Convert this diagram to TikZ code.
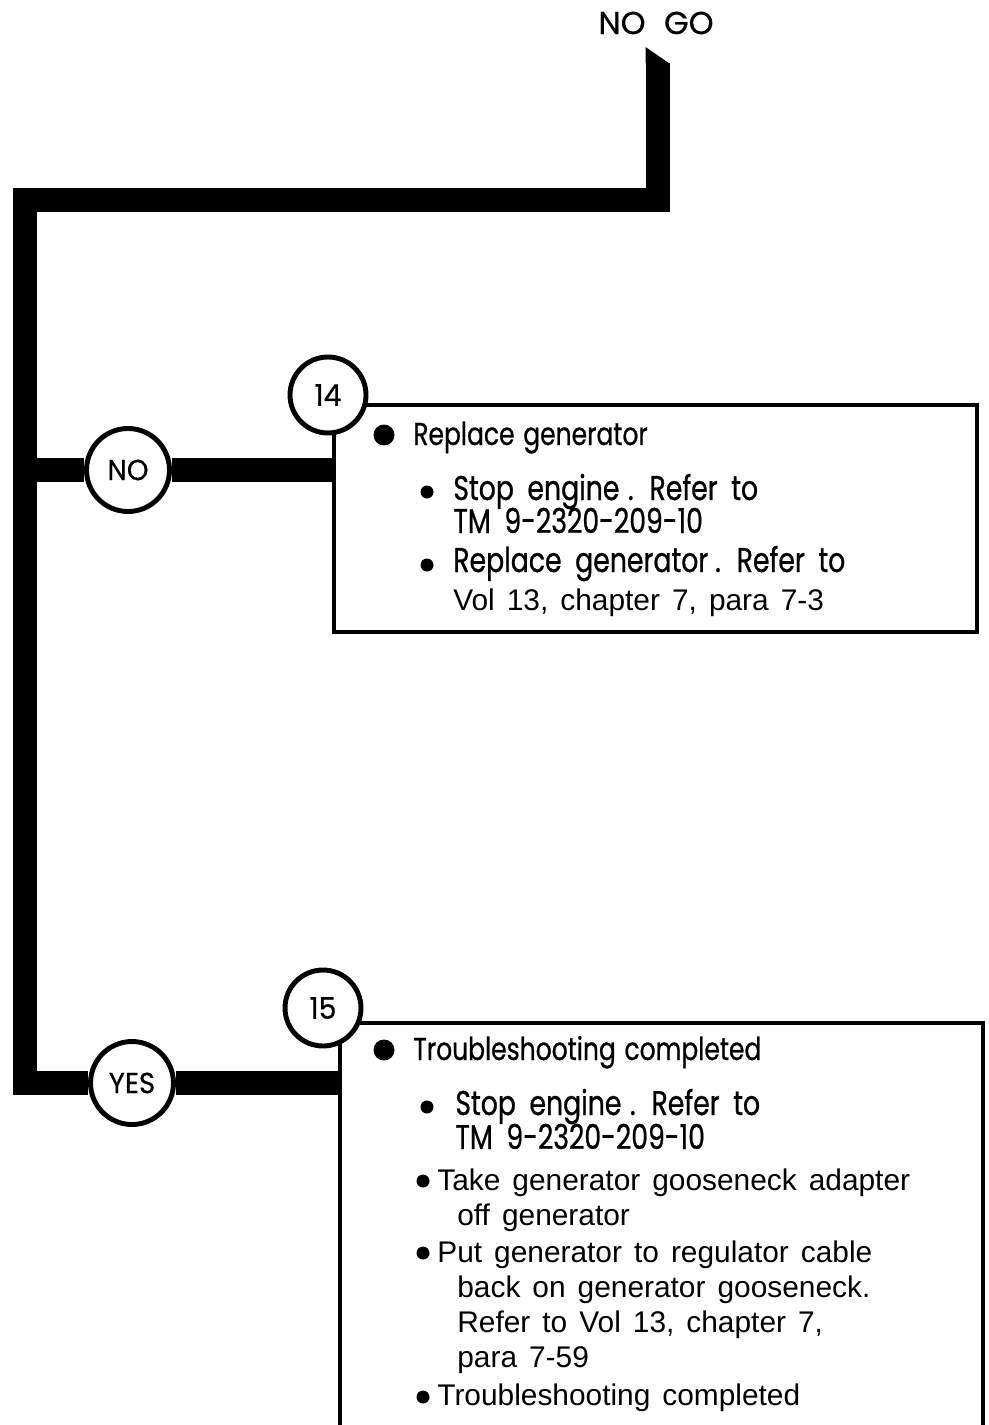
\documentclass[tikz,border=0pt]{standalone}
\usepackage{fontspec}
\setmainfont{Poppins}
\newfontfamily\headfont[FakeStretch=0.79,FakeBold=0.7,WordSpace=1.3]{Poppins}
\newfontfamily\itemfont[FakeStretch=0.78,FakeBold=0.7,WordSpace=1.9]{Poppins}
\newfontfamily\ringfont[FakeStretch=0.95,FakeBold=0.6]{Poppins}
\newfontfamily\gofont[WordSpace=2.2,FakeBold=0.6]{Poppins}
\newfontfamily\thinfont[WordSpace=1.45]{Liberation Sans}
\tikzset{
  flow/.style={line width=0.48cm},
  ring/.style={circle,draw,fill=white,line width=2.8pt,inner sep=0pt,
    minimum size=1.66cm,font=\ringfont\fontsize{16.5}{16.5}\selectfont},
  stepring/.style={ring,minimum size=1.52cm,font=\ringfont\fontsize{17}{17}\selectfont},
  frame/.style={line width=1.8pt},
  head/.style={anchor=base west,inner sep=0pt,font=\headfont\fontsize{18}{18}\selectfont},
  item/.style={anchor=base west,inner sep=0pt,font=\itemfont\fontsize{19.5}{19.5}\selectfont},
  note/.style={anchor=base west,inner sep=0pt,font=\thinfont\fontsize{17}{17}\selectfont},
}
\begin{document}
\begin{tikzpicture}[x=0.02cm,y=-0.02cm]
\useasboundingbox (0,0) rectangle (988,1425);
% boxes
\draw[frame] (334,405) rectangle (977,632);
\draw[frame] (340,1425) -- (340,1023) -- (983,1023) -- (983,1425);
% answer and step circles
\node[ring] (no) at (128,470) {NO};
\node[ring] (yes) at (132,1083) {YES};
\node[stepring] (s14) at (328,395) {14};
\node[stepring] (s15) at (323,1008) {15};
\node[font=\gofont\fontsize{18}{18}\selectfont] (nogo) at (656,23) {NO GO};
% thick flow line
\coordinate (go) at (657.5,63);
\coordinate (bend) at (25,200);
\coordinate (foot) at (25,1083);
\coordinate (in14) at (334,470);
\coordinate (in15) at (340,1083);
\fill (645.5,47) -- (669.5,63.5) -- (645.5,63.5) -- cycle;
\draw[flow] (go) |- (bend) -- (foot) -- (yes.west);
\draw[flow] (bend |- no) -- (no.west);
\draw[flow] (no.east) -- (in14);
\draw[flow] (yes.east) -- (in15);
% step 14
\fill (384,435) circle (0.21cm);
\node[head] (r14) at (413,445) {Replace generator};
\fill (427,492) circle (0.13cm);
\node[item] (a14) at (453,500) {Stop engine\kern0.25em. Refer to};
\node[item] (b14) at (453,533) {TM 9-2320-209-10};
\fill (427,565) circle (0.13cm);
\node[item] (c14) at (453,572) {Replace generator\kern0.2em. Refer to};
\node[note] (d14) at (453,610) {Vol 13, chapter 7, para 7-3};
% step 15
\fill (384,1050) circle (0.21cm);
\node[head] (r15) at (413,1060) {Troubleshooting completed};
\fill (427,1107) circle (0.13cm);
\node[item] (a15) at (455,1115) {Stop engine\kern0.25em. Refer to};
\node[item] (b15) at (455,1149) {TM 9-2320-209-10};
\fill (423,1181) circle (0.13cm);
\node[note] (c15) at (437,1190) {Take generator gooseneck adapter};
\node[note] (c15b) at (457,1225) {off generator};
\fill (423,1253) circle (0.13cm);
\node[note] (d15) at (437,1262) {Put generator to regulator cable};
\node[note] (d15b) at (457,1297) {back on generator gooseneck.};
\node[note] (d15c) at (457,1332) {Refer to Vol 13, chapter 7,};
\node[note] (d15d) at (457,1367) {para 7-59};
\fill (423,1397) circle (0.13cm);
\node[note] (e15) at (437,1405) {Troubleshooting completed};
\end{tikzpicture}
\end{document}
